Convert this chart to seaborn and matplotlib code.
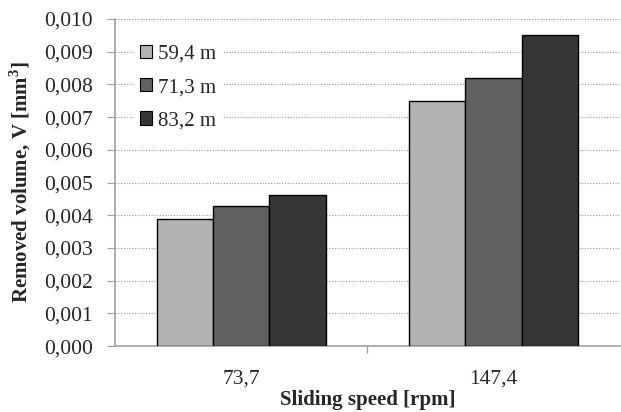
import numpy as np
import pandas as pd
import seaborn as sns
import matplotlib
matplotlib.use("Agg")
import matplotlib.pyplot as plt
from matplotlib.ticker import FuncFormatter, MultipleLocator, FixedLocator

speeds = ["73,7", "147,4"]
distances = ["59,4 m", "71,3 m", "83,2 m"]
vol_59 = [0.00388, 0.00750]
vol_71 = [0.00428, 0.00819]
vol_83 = [0.00463, 0.00950]

df = pd.DataFrame({
    "speed": speeds * 3,
    "distance": [d for d in distances for _ in speeds],
    "volume": vol_59 + vol_71 + vol_83,
})

sns.set_style("white")
plt.rcParams["font.family"] = ["Liberation Serif", "DejaVu Serif"]
plt.rcParams["mathtext.fontset"] = "custom"
plt.rcParams["mathtext.rm"] = "Liberation Serif"
plt.rcParams["mathtext.bf"] = "Liberation Serif:bold"

fig = plt.figure(figsize=(6.21, 4.12), dpi=100)
ax = fig.add_axes([0.185, 0.160, 0.813, 0.794])

palette = ["#b2b2b2", "#606060", "#363636"]
sns.barplot(data=df, x="speed", y="volume", hue="distance", palette=palette,
            width=0.67, edgecolor="black", linewidth=1.0, saturation=1,
            ax=ax, zorder=3)

ax.set_xlim(-0.5, 1.5)
ax.set_ylim(0, 0.010)
ax.yaxis.set_major_locator(MultipleLocator(0.001))
ax.yaxis.set_major_formatter(FuncFormatter(lambda v, p: f"{v:.3f}".replace(".", ",")))
ax.xaxis.set_minor_locator(FixedLocator([0.5]))
ax.grid(axis="y", color="#999999", linestyle=(0, (1, 1.5)), linewidth=0.8, zorder=0)
ax.set_axisbelow(True)

for s in ["top", "right"]:
    ax.spines[s].set_visible(False)
ax.spines["left"].set_color("#a0a0a0")
ax.spines["bottom"].set_color("#a0a0a0")
ax.spines["left"].set_linewidth(1.2)
ax.spines["bottom"].set_linewidth(1.2)

ax.tick_params(axis="y", direction="out", length=6, color="#a0a0a0", labelsize=15.5, pad=10, left=True)
ax.tick_params(axis="x", which="major", length=0, labelsize=15.5, pad=17)
ax.tick_params(axis="x", which="minor", direction="out", length=5, color="#a0a0a0", width=1, bottom=True)

ax.set_xlabel("Sliding speed [rpm]", fontsize=15, fontweight="bold", labelpad=1)
ax.set_ylabel(r"Removed volume, V [mm$^\mathbf{3}$]", fontsize=15, fontweight="bold", labelpad=8)

leg = ax.legend(loc="upper left", bbox_to_anchor=(0.02, 0.965), frameon=True,
                fontsize=15, handlelength=0.6, handleheight=0.6, handletextpad=0.3,
                labelspacing=0.68, borderpad=0.2, fancybox=False)
leg.get_frame().set_edgecolor("white")
leg.get_frame().set_facecolor("white")
leg.get_frame().set_alpha(1)
leg.set_title(None)
for h in leg.legend_handles:
    h.set_edgecolor("black")
    h.set_linewidth(0.8)

fig.savefig("out.png", dpi=100)
